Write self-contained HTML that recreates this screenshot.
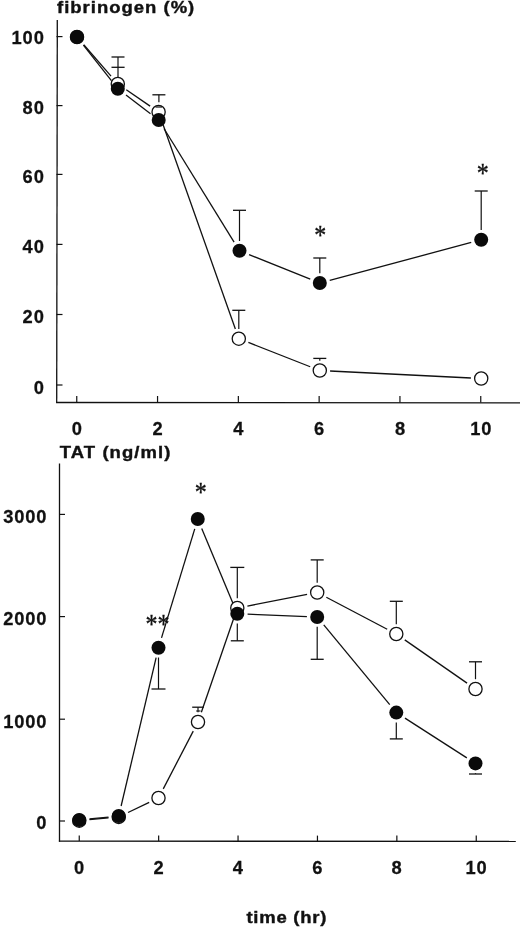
<!DOCTYPE html>
<html><head><meta charset="utf-8"><title>Figure</title>
<style>
html,body{margin:0;padding:0;background:#fff;}
body{width:520px;height:928px;overflow:hidden;font-family:"Liberation Sans",sans-serif;}
svg{display:block;filter:grayscale(1) blur(0.35px);}
svg text{font-family:"Liberation Sans",sans-serif;font-weight:bold;fill:#111;}
</style></head><body>
<svg width="520" height="928" viewBox="0 0 520 928">
<rect width="520" height="928" fill="#fff"/>
<line x1="57.30" y1="20.00" x2="56.70" y2="403.10" stroke="#111" stroke-width="1.3"/>
<line x1="56.10" y1="402.50" x2="520.00" y2="402.90" stroke="#111" stroke-width="1.3"/>
<line x1="56.50" y1="385.00" x2="62.50" y2="385.00" stroke="#111" stroke-width="1.2"/>
<text transform="translate(44.80,394.00) scale(1.04,1)" font-size="17.6" text-anchor="end" letter-spacing="0.9" stroke="#111" stroke-width="0.25">0</text>
<line x1="56.50" y1="314.50" x2="62.50" y2="314.50" stroke="#111" stroke-width="1.2"/>
<text transform="translate(44.80,322.70) scale(1.04,1)" font-size="17.6" text-anchor="end" letter-spacing="0.9" stroke="#111" stroke-width="0.25">20</text>
<line x1="56.50" y1="244.40" x2="62.50" y2="244.40" stroke="#111" stroke-width="1.2"/>
<text transform="translate(44.80,253.30) scale(1.04,1)" font-size="17.6" text-anchor="end" letter-spacing="0.9" stroke="#111" stroke-width="0.25">40</text>
<line x1="56.50" y1="174.40" x2="62.50" y2="174.40" stroke="#111" stroke-width="1.2"/>
<text transform="translate(44.80,182.70) scale(1.04,1)" font-size="17.6" text-anchor="end" letter-spacing="0.9" stroke="#111" stroke-width="0.25">60</text>
<line x1="56.50" y1="105.60" x2="62.50" y2="105.60" stroke="#111" stroke-width="1.2"/>
<text transform="translate(44.80,113.70) scale(1.04,1)" font-size="17.6" text-anchor="end" letter-spacing="0.9" stroke="#111" stroke-width="0.25">80</text>
<line x1="56.50" y1="36.60" x2="62.50" y2="36.60" stroke="#111" stroke-width="1.2"/>
<text transform="translate(44.80,44.30) scale(1.04,1)" font-size="17.6" text-anchor="end" letter-spacing="0.9" stroke="#111" stroke-width="0.25">100</text>
<line x1="76.75" y1="402.50" x2="76.75" y2="396.00" stroke="#111" stroke-width="1.2"/>
<text transform="translate(77.25,435.00) scale(1.04,1)" font-size="17.6" text-anchor="middle" letter-spacing="0.9" stroke="#111" stroke-width="0.25">0</text>
<line x1="157.55" y1="402.50" x2="157.55" y2="396.00" stroke="#111" stroke-width="1.2"/>
<text transform="translate(158.05,435.00) scale(1.04,1)" font-size="17.6" text-anchor="middle" letter-spacing="0.9" stroke="#111" stroke-width="0.25">2</text>
<line x1="238.35" y1="402.50" x2="238.35" y2="396.00" stroke="#111" stroke-width="1.2"/>
<text transform="translate(238.85,435.00) scale(1.04,1)" font-size="17.6" text-anchor="middle" letter-spacing="0.9" stroke="#111" stroke-width="0.25">4</text>
<line x1="319.15" y1="402.50" x2="319.15" y2="396.00" stroke="#111" stroke-width="1.2"/>
<text transform="translate(319.65,435.00) scale(1.04,1)" font-size="17.6" text-anchor="middle" letter-spacing="0.9" stroke="#111" stroke-width="0.25">6</text>
<line x1="399.95" y1="402.50" x2="399.95" y2="396.00" stroke="#111" stroke-width="1.2"/>
<text transform="translate(400.45,435.00) scale(1.04,1)" font-size="17.6" text-anchor="middle" letter-spacing="0.9" stroke="#111" stroke-width="0.25">8</text>
<line x1="480.75" y1="402.50" x2="480.75" y2="396.00" stroke="#111" stroke-width="1.2"/>
<text transform="translate(481.25,435.00) scale(1.04,1)" font-size="17.6" text-anchor="middle" letter-spacing="0.9" stroke="#111" stroke-width="0.25">10</text>
<text transform="translate(57.00,13.30) scale(1.1,1)" font-size="16.8" text-anchor="start" letter-spacing="0.92" stroke="#111" stroke-width="0.4">fibrinogen (%)</text>
<line x1="83.76" y1="44.77" x2="111.04" y2="76.13" stroke="#111" stroke-width="1.3"/>
<line x1="126.28" y1="89.74" x2="150.12" y2="106.16" stroke="#111" stroke-width="1.3"/>
<line x1="162.04" y1="121.71" x2="235.36" y2="328.99" stroke="#111" stroke-width="1.3"/>
<line x1="248.39" y1="342.46" x2="310.21" y2="366.74" stroke="#111" stroke-width="1.3"/>
<line x1="330.09" y1="371.01" x2="470.91" y2="377.99" stroke="#111" stroke-width="1.3"/>
<line x1="83.37" y1="45.09" x2="111.43" y2="80.71" stroke="#111" stroke-width="1.3"/>
<line x1="125.99" y1="95.05" x2="150.51" y2="113.75" stroke="#111" stroke-width="1.3"/>
<line x1="164.11" y1="128.76" x2="234.09" y2="242.04" stroke="#111" stroke-width="1.3"/>
<line x1="249.06" y1="254.63" x2="310.24" y2="279.17" stroke="#111" stroke-width="1.3"/>
<line x1="329.75" y1="280.34" x2="471.25" y2="242.46" stroke="#111" stroke-width="1.3"/>
<line x1="118.00" y1="77.10" x2="118.00" y2="57.00" stroke="#111" stroke-width="1.2"/>
<line x1="111.50" y1="57.00" x2="124.50" y2="57.00" stroke="#111" stroke-width="1.3"/>
<line x1="111.50" y1="67.30" x2="124.60" y2="67.30" stroke="#111" stroke-width="1.3"/>
<line x1="158.90" y1="102.20" x2="158.90" y2="94.80" stroke="#111" stroke-width="1.2"/>
<line x1="152.40" y1="94.80" x2="165.40" y2="94.80" stroke="#111" stroke-width="1.3"/>
<line x1="238.80" y1="328.90" x2="238.80" y2="310.30" stroke="#111" stroke-width="1.2"/>
<line x1="232.30" y1="310.30" x2="245.30" y2="310.30" stroke="#111" stroke-width="1.3"/>
<line x1="319.80" y1="360.70" x2="319.80" y2="358.40" stroke="#111" stroke-width="1.2"/>
<line x1="313.30" y1="358.40" x2="326.30" y2="358.40" stroke="#111" stroke-width="1.3"/>
<circle cx="77.00" cy="37.00" r="6.6" fill="#fff" stroke="#111" stroke-width="1.3"/>
<circle cx="117.80" cy="83.90" r="6.6" fill="#fff" stroke="#111" stroke-width="1.3"/>
<circle cx="158.60" cy="112.00" r="6.6" fill="#fff" stroke="#111" stroke-width="1.3"/>
<circle cx="238.80" cy="338.70" r="6.6" fill="#fff" stroke="#111" stroke-width="1.3"/>
<circle cx="319.80" cy="370.50" r="6.6" fill="#fff" stroke="#111" stroke-width="1.3"/>
<circle cx="481.20" cy="378.50" r="6.6" fill="#fff" stroke="#111" stroke-width="1.3"/>
<line x1="155.50" y1="107.00" x2="162.00" y2="107.00" stroke="#111" stroke-width="1.2"/>
<line x1="239.50" y1="241.00" x2="239.50" y2="210.30" stroke="#111" stroke-width="1.2"/>
<line x1="233.00" y1="210.30" x2="246.00" y2="210.30" stroke="#111" stroke-width="1.3"/>
<line x1="319.80" y1="273.20" x2="319.80" y2="258.00" stroke="#111" stroke-width="1.2"/>
<line x1="313.30" y1="258.00" x2="326.30" y2="258.00" stroke="#111" stroke-width="1.3"/>
<line x1="481.20" y1="230.00" x2="481.20" y2="191.00" stroke="#111" stroke-width="1.2"/>
<line x1="474.70" y1="191.00" x2="487.70" y2="191.00" stroke="#111" stroke-width="1.3"/>
<circle cx="77.00" cy="37.00" r="7.0" fill="#0a0a0a"/>
<circle cx="117.80" cy="88.80" r="7.0" fill="#0a0a0a"/>
<circle cx="158.70" cy="120.00" r="7.0" fill="#0a0a0a"/>
<circle cx="239.50" cy="250.80" r="7.0" fill="#0a0a0a"/>
<circle cx="319.80" cy="283.00" r="7.0" fill="#0a0a0a"/>
<circle cx="481.20" cy="239.80" r="7.0" fill="#0a0a0a"/>
<text transform="translate(320.2,243.6) scale(0.96,1.12)" style="font-family:'Liberation Serif',serif;font-weight:normal;font-size:25px" text-anchor="middle" stroke="#111" stroke-width="0.35">*</text>
<text transform="translate(482.8,181.6) scale(0.96,1.12)" style="font-family:'Liberation Serif',serif;font-weight:normal;font-size:25px" text-anchor="middle" stroke="#111" stroke-width="0.35">*</text>
<line x1="59.50" y1="463.50" x2="59.50" y2="841.70" stroke="#111" stroke-width="1.3"/>
<line x1="58.90" y1="841.10" x2="515.80" y2="841.40" stroke="#111" stroke-width="1.3"/>
<line x1="59.50" y1="821.00" x2="65.00" y2="821.00" stroke="#111" stroke-width="1.2"/>
<text transform="translate(47.30,829.40) scale(1.04,1)" font-size="17.6" text-anchor="end" letter-spacing="0.8" stroke="#111" stroke-width="0.25">0</text>
<line x1="59.50" y1="719.20" x2="65.00" y2="719.20" stroke="#111" stroke-width="1.2"/>
<text transform="translate(47.30,727.60) scale(1.04,1)" font-size="17.6" text-anchor="end" letter-spacing="0.8" stroke="#111" stroke-width="0.25">1000</text>
<line x1="59.50" y1="616.60" x2="65.00" y2="616.60" stroke="#111" stroke-width="1.2"/>
<text transform="translate(47.30,625.00) scale(1.04,1)" font-size="17.6" text-anchor="end" letter-spacing="0.8" stroke="#111" stroke-width="0.25">2000</text>
<line x1="59.50" y1="514.40" x2="65.00" y2="514.40" stroke="#111" stroke-width="1.2"/>
<text transform="translate(47.30,522.80) scale(1.04,1)" font-size="17.6" text-anchor="end" letter-spacing="0.8" stroke="#111" stroke-width="0.25">3000</text>
<line x1="79.25" y1="841.10" x2="79.25" y2="835.60" stroke="#111" stroke-width="1.2"/>
<text transform="translate(79.55,873.80) scale(1.04,1)" font-size="17.6" text-anchor="middle" letter-spacing="0.9" stroke="#111" stroke-width="0.25">0</text>
<line x1="158.65" y1="841.10" x2="158.65" y2="835.60" stroke="#111" stroke-width="1.2"/>
<text transform="translate(158.95,873.80) scale(1.04,1)" font-size="17.6" text-anchor="middle" letter-spacing="0.9" stroke="#111" stroke-width="0.25">2</text>
<line x1="238.05" y1="841.10" x2="238.05" y2="835.60" stroke="#111" stroke-width="1.2"/>
<text transform="translate(238.35,873.80) scale(1.04,1)" font-size="17.6" text-anchor="middle" letter-spacing="0.9" stroke="#111" stroke-width="0.25">4</text>
<line x1="317.45" y1="841.10" x2="317.45" y2="835.60" stroke="#111" stroke-width="1.2"/>
<text transform="translate(317.75,873.80) scale(1.04,1)" font-size="17.6" text-anchor="middle" letter-spacing="0.9" stroke="#111" stroke-width="0.25">6</text>
<line x1="396.85" y1="841.10" x2="396.85" y2="835.60" stroke="#111" stroke-width="1.2"/>
<text transform="translate(397.15,873.80) scale(1.04,1)" font-size="17.6" text-anchor="middle" letter-spacing="0.9" stroke="#111" stroke-width="0.25">8</text>
<line x1="476.25" y1="841.10" x2="476.25" y2="835.60" stroke="#111" stroke-width="1.2"/>
<text transform="translate(476.55,873.80) scale(1.04,1)" font-size="17.6" text-anchor="middle" letter-spacing="0.9" stroke="#111" stroke-width="0.25">10</text>
<text transform="translate(59.80,457.80) scale(1.1,1)" font-size="16.8" text-anchor="start" letter-spacing="0.98" stroke="#111" stroke-width="0.4">TAT (ng/ml)</text>
<text transform="translate(246.40,923.00) scale(1.1,1)" font-size="16.8" text-anchor="start" letter-spacing="0.7" stroke="#111" stroke-width="0.4">time (hr)</text>
<line x1="89.50" y1="819.71" x2="108.50" y2="817.89" stroke="#111" stroke-width="1.3"/>
<line x1="128.05" y1="812.48" x2="149.20" y2="802.42" stroke="#111" stroke-width="1.3"/>
<line x1="163.25" y1="788.86" x2="193.25" y2="731.14" stroke="#111" stroke-width="1.3"/>
<line x1="201.36" y1="712.26" x2="233.94" y2="617.74" stroke="#111" stroke-width="1.3"/>
<line x1="247.41" y1="606.04" x2="307.09" y2="594.46" stroke="#111" stroke-width="1.3"/>
<line x1="326.32" y1="597.29" x2="387.18" y2="629.21" stroke="#111" stroke-width="1.3"/>
<line x1="404.76" y1="639.88" x2="467.04" y2="683.12" stroke="#111" stroke-width="1.3"/>
<line x1="89.50" y1="818.96" x2="108.50" y2="817.04" stroke="#111" stroke-width="1.3"/>
<line x1="121.12" y1="805.98" x2="156.13" y2="657.72" stroke="#111" stroke-width="1.3"/>
<line x1="161.50" y1="637.85" x2="194.75" y2="528.85" stroke="#111" stroke-width="1.3"/>
<line x1="201.72" y1="528.51" x2="233.33" y2="604.29" stroke="#111" stroke-width="1.3"/>
<line x1="247.59" y1="614.21" x2="306.91" y2="616.59" stroke="#111" stroke-width="1.3"/>
<line x1="323.77" y1="624.94" x2="389.73" y2="704.66" stroke="#111" stroke-width="1.3"/>
<line x1="404.97" y1="718.16" x2="466.83" y2="757.84" stroke="#111" stroke-width="1.3"/>
<line x1="198.00" y1="712.20" x2="198.00" y2="707.20" stroke="#111" stroke-width="1.2"/>
<line x1="192.20" y1="707.20" x2="203.80" y2="707.20" stroke="#111" stroke-width="1.3"/>
<line x1="196.20" y1="711.00" x2="200.50" y2="711.00" stroke="#111" stroke-width="1.1"/>
<line x1="237.30" y1="598.20" x2="237.30" y2="567.40" stroke="#111" stroke-width="1.2"/>
<line x1="230.30" y1="567.40" x2="244.30" y2="567.40" stroke="#111" stroke-width="1.3"/>
<line x1="317.20" y1="582.70" x2="317.20" y2="559.90" stroke="#111" stroke-width="1.2"/>
<line x1="310.70" y1="559.90" x2="323.70" y2="559.90" stroke="#111" stroke-width="1.3"/>
<line x1="396.30" y1="624.20" x2="396.30" y2="601.30" stroke="#111" stroke-width="1.2"/>
<line x1="389.80" y1="601.30" x2="402.80" y2="601.30" stroke="#111" stroke-width="1.3"/>
<line x1="475.50" y1="679.20" x2="475.50" y2="661.80" stroke="#111" stroke-width="1.2"/>
<line x1="469.00" y1="661.80" x2="482.00" y2="661.80" stroke="#111" stroke-width="1.3"/>
<circle cx="79.25" cy="820.70" r="6.6" fill="#fff" stroke="#111" stroke-width="1.3"/>
<circle cx="118.75" cy="816.90" r="6.6" fill="#fff" stroke="#111" stroke-width="1.3"/>
<circle cx="158.50" cy="798.00" r="6.6" fill="#fff" stroke="#111" stroke-width="1.3"/>
<circle cx="198.00" cy="722.00" r="6.6" fill="#fff" stroke="#111" stroke-width="1.3"/>
<circle cx="237.30" cy="608.00" r="6.6" fill="#fff" stroke="#111" stroke-width="1.3"/>
<circle cx="317.20" cy="592.50" r="6.6" fill="#fff" stroke="#111" stroke-width="1.3"/>
<circle cx="396.30" cy="634.00" r="6.6" fill="#fff" stroke="#111" stroke-width="1.3"/>
<circle cx="475.50" cy="689.00" r="6.6" fill="#fff" stroke="#111" stroke-width="1.3"/>
<line x1="158.50" y1="657.50" x2="158.50" y2="689.00" stroke="#111" stroke-width="1.2"/>
<line x1="151.50" y1="689.00" x2="165.50" y2="689.00" stroke="#111" stroke-width="1.3"/>
<line x1="237.30" y1="623.60" x2="237.30" y2="640.80" stroke="#111" stroke-width="1.2"/>
<line x1="230.80" y1="640.80" x2="243.80" y2="640.80" stroke="#111" stroke-width="1.3"/>
<line x1="317.20" y1="626.80" x2="317.20" y2="659.30" stroke="#111" stroke-width="1.2"/>
<line x1="310.70" y1="659.30" x2="323.70" y2="659.30" stroke="#111" stroke-width="1.3"/>
<line x1="396.30" y1="722.40" x2="396.30" y2="738.90" stroke="#111" stroke-width="1.2"/>
<line x1="389.80" y1="738.90" x2="402.80" y2="738.90" stroke="#111" stroke-width="1.3"/>
<line x1="475.50" y1="773.20" x2="475.50" y2="774.00" stroke="#111" stroke-width="1.2"/>
<line x1="469.00" y1="774.00" x2="482.00" y2="774.00" stroke="#111" stroke-width="1.3"/>
<circle cx="79.25" cy="820.00" r="7.0" fill="#0a0a0a"/>
<circle cx="118.75" cy="816.00" r="7.0" fill="#0a0a0a"/>
<circle cx="158.50" cy="647.70" r="7.0" fill="#0a0a0a"/>
<circle cx="197.75" cy="519.00" r="7.0" fill="#0a0a0a"/>
<circle cx="237.30" cy="613.80" r="7.0" fill="#0a0a0a"/>
<circle cx="317.20" cy="617.00" r="7.0" fill="#0a0a0a"/>
<circle cx="396.30" cy="712.60" r="7.0" fill="#0a0a0a"/>
<circle cx="475.50" cy="763.40" r="7.0" fill="#0a0a0a"/>
<text transform="translate(200.7,500.6) scale(0.96,1.12)" style="font-family:'Liberation Serif',serif;font-weight:normal;font-size:25px" text-anchor="middle" stroke="#111" stroke-width="0.35">*</text>
<text transform="translate(151.5,633.1) scale(0.96,1.12)" style="font-family:'Liberation Serif',serif;font-weight:normal;font-size:25px" text-anchor="middle" stroke="#111" stroke-width="0.35">*</text>
<text transform="translate(163.5,633.1) scale(0.96,1.12)" style="font-family:'Liberation Serif',serif;font-weight:normal;font-size:25px" text-anchor="middle" stroke="#111" stroke-width="0.35">*</text>
</svg>
</body></html>
